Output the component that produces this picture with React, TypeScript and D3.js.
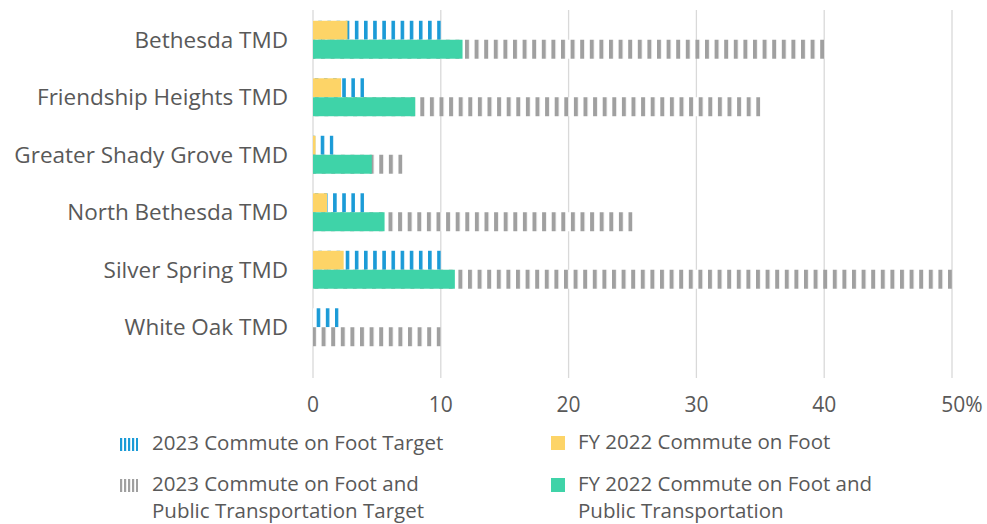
import { scaleBand, scaleLinear } from 'd3'

const width = 987
const height = 524

const categories = [
  'Bethesda TMD',
  'Friendship Heights TMD',
  'Greater Shady Grove TMD',
  'North Bethesda TMD',
  'Silver Spring TMD',
  'White Oak TMD'
]
const footTarget = [10, 4, 1.6, 4, 10, 2]
const footPTTarget = [40, 35, 7, 25, 50, 10]
const footActual = [2.7, 2.2, 0.2, 1.1, 2.4, 0]
const footPTActual = [11.7, 8, 4.6, 5.6, 11.1, 0]
const ticks = [0, 10, 20, 30, 40, 50]

const blue = '#1b9bd7'
const gray = '#a0a0a0'
const yellow = '#fdd467'
const green = '#3fd3a8'
const textColor = '#595959'
const font = '"Open Sans", sans-serif'

const xScale = scaleLinear().domain([0, 50]).range([313, 952])
const yScale = scaleBand()
  .domain(categories)
  .range([11, 356])
  .paddingInner(0.34)
  .paddingOuter(0.17)

// vertical stripe fill, anchored so a stripe closes the bar's right end
function Stripes({ id, end, period, stripe, color }) {
  return (
    <pattern id={id} patternUnits="userSpaceOnUse" width={period} height={10} x={end - stripe}>
      <rect width={period} height={10} fill="#fff" />
      <rect width={stripe} height={10} fill={color} />
    </pattern>
  )
}

function App() {
  const bw = yScale.bandwidth() / 2
  return (
    <svg width={width} height={height} style={{ position: 'absolute', left: 0, top: 0 }}>
      <defs>
        {categories.map((c, i) => (
          <g key={c}>
            <Stripes id={`blue${i}`} end={xScale(footTarget[i])} period={9.15} stripe={3.6} color={blue} />
            <Stripes id={`gray${i}`} end={xScale(footPTTarget[i])} period={9.6} stripe={4} color={gray} />
          </g>
        ))}
        <pattern id="blueIcon" patternUnits="userSpaceOnUse" width={4} height={10} x={120}>
          <rect width={2.2} height={10} fill={blue} />
        </pattern>
        <pattern id="grayIcon" patternUnits="userSpaceOnUse" width={4} height={10} x={120}>
          <rect width={2.2} height={10} fill={gray} />
        </pattern>
      </defs>

      {ticks.map(t => (
        <g key={t}>
          <line x1={xScale(t)} x2={xScale(t)} y1={10} y2={378} stroke="#d9d9d9" strokeWidth={1.3} />
          <text
            x={t === 50 ? xScale(t) + 10 : xScale(t)}
            y={412}
            textAnchor="middle"
            fill={textColor}
            fontFamily={font}
            fontSize={21}
          >{t === 50 ? '50%' : t}</text>
        </g>
      ))}

      {categories.map((c, i) => {
        const y0 = yScale(c) as number
        return (
          <g key={c}>
            <rect x={xScale(0)} y={y0} width={xScale(footTarget[i]) - xScale(0)} height={bw} fill={`url(#blue${i})`} />
            <rect x={xScale(0)} y={y0} width={xScale(footActual[i]) - xScale(0)} height={bw} fill={yellow} />
            <rect x={xScale(0)} y={y0 + bw} width={xScale(footPTTarget[i]) - xScale(0)} height={bw} fill={`url(#gray${i})`} />
            <rect x={xScale(0)} y={y0 + bw} width={xScale(footPTActual[i]) - xScale(0)} height={bw} fill={green} />
            <text
              x={288}
              y={y0 + bw}
              dy="0.35em"
              textAnchor="end"
              fill={textColor}
              fontFamily={font}
              fontSize={22.5}
            >{c}</text>
          </g>
        )
      })}

      <g fontFamily={font} fontSize={20.5} fill={textColor}>
        <rect x={120} y={438} width={18} height={13} fill="url(#blueIcon)" />
        <text x={152} y={450}>2023 Commute on Foot Target</text>
        <rect x={120} y={479} width={18} height={13} fill="url(#grayIcon)" />
        <text x={152} y={490.5}>2023 Commute on Foot and</text>
        <text x={152} y={518}>Public Transportation Target</text>

        <rect x={551} y={436} width={14} height={14} fill={yellow} />
        <text x={578} y={449}>FY 2022 Commute on Foot</text>
        <rect x={551} y={478} width={14} height={14} fill={green} />
        <text x={578} y={490.5}>FY 2022 Commute on Foot and</text>
        <text x={578} y={518}>Public Transportation</text>
      </g>
    </svg>
  )
}

export default App
